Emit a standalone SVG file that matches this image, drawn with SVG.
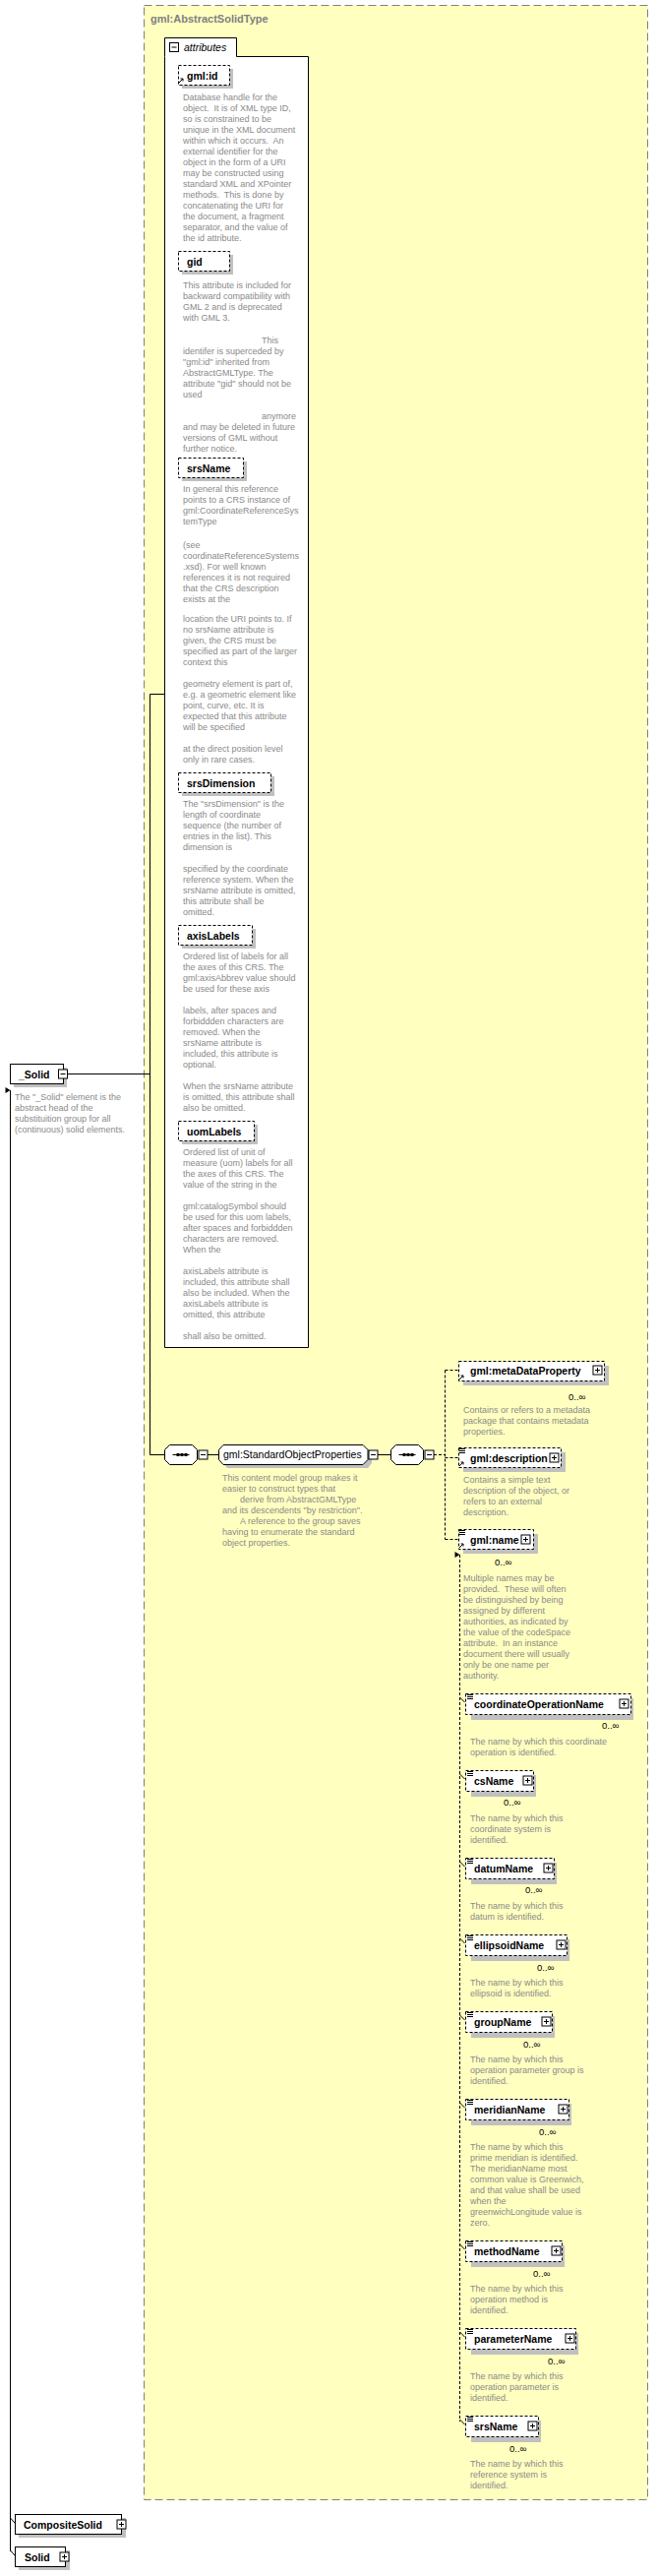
<svg xmlns="http://www.w3.org/2000/svg" xmlns:xlink="http://www.w3.org/1999/xlink" width="669" height="2618" viewBox="0 0 669 2618">
<style>
.d{font-family:"Liberation Sans",Arial,sans-serif;font-size:9px;fill:#8a8a8a}
.b{font-family:"Liberation Sans",Arial,sans-serif;font-size:10.5px;font-weight:bold;fill:#000}
.n{font-family:"Liberation Sans",Arial,sans-serif;font-size:10.5px;fill:#000}
.o{font-family:"Liberation Sans",Arial,sans-serif;font-size:9.5px;fill:#000}
.sh{fill:#c0c0c0}
.sol{fill:#fff;stroke:#000;stroke-width:1}
.das{fill:#fff;stroke:#000;stroke-width:1;stroke-dasharray:3,2}
.ln{stroke:#000;stroke-width:1;fill:none}
.dl{stroke:#000;stroke-width:1;fill:none;stroke-dasharray:3,2}
</style>
<defs>
<g id="plus"><rect x="0" y="0" width="9" height="9" fill="#fff" stroke="#000"/><path d="M2,4.5H7M4.5,2V7" stroke="#000"/></g>
<g id="minus"><rect x="0" y="0" width="9" height="9" fill="#fff" stroke="#000"/><path d="M2,4.5H7" stroke="#000"/></g>
<g id="lst"><path d="M0,0.5H6M0,2.5H6M0,4.5H6" stroke="#000" stroke-width="1"/></g>
<g id="ref"><path d="M0,6L4,2M1.5,2H4V4.5" stroke="#000" stroke-width="1" fill="none"/></g>
<g id="seq"><polygon points="5,0 28,0 33,5 33,15 28,20 5,20 0,15 0,5" fill="#fff" stroke="#000"/><path d="M8,10H25" stroke="#000"/><rect x="12" y="8.5" width="3" height="3" fill="#000"/><rect x="16" y="8.5" width="3" height="3" fill="#000"/><rect x="20" y="8.5" width="3" height="3" fill="#000"/></g>
<marker id="ar" markerWidth="6" markerHeight="6" refX="3" refY="0" orient="auto" markerUnits="userSpaceOnUse"><path d="M0,5L3,0L6,5Z" fill="#000"/></marker>
</defs>

<g id="type">
<rect x="146.5" y="5.5" width="512" height="2535" fill="#ffffc0" stroke="#808080" stroke-dasharray="8,4"/>
<text x="153" y="23" font-family="Liberation Sans,Arial,sans-serif" font-size="11px" font-weight="bold" fill="#808080">gml:AbstractSolidType</text>
</g>

<g id="attributes">
<path d="M167.5,57.5V38.5H240.5V57.5H313.5V1369.5H167.5Z" fill="#fff" stroke="#000"/>
<use xlink:href="#minus" x="172.5" y="43.5"/>
<text x="187" y="52" font-family="Liberation Sans,Arial,sans-serif" font-size="10.5px" font-style="italic">attributes</text>
</g>

<g id="att-gmlid">
<rect class="sh" x="185" y="70" width="52" height="20"/>
<rect class="das" x="181.5" y="66.5" width="52" height="20"/>
<use xlink:href="#ref" x="182" y="78"/>
<text class="b" x="190" y="81">gml:id</text>
<text class="d" xml:space="preserve"><tspan x="186" y="102">Database handle for the</tspan><tspan x="186" dy="11">object.  It is of XML type ID,</tspan><tspan x="186" dy="11">so is constrained to be</tspan><tspan x="186" dy="11">unique in the XML document</tspan><tspan x="186" dy="11">within which it occurs.  An</tspan><tspan x="186" dy="11">external identifier for the</tspan><tspan x="186" dy="11">object in the form of a URI</tspan><tspan x="186" dy="11">may be constructed using</tspan><tspan x="186" dy="11">standard XML and XPointer</tspan><tspan x="186" dy="11">methods.  This is done by</tspan><tspan x="186" dy="11">concatenating the URI for</tspan><tspan x="186" dy="11">the document, a fragment</tspan><tspan x="186" dy="11">separator, and the value of</tspan><tspan x="186" dy="11">the id attribute.</tspan></text>
</g>

<g id="att-gid">
<rect class="sh" x="185" y="259" width="52" height="20"/>
<rect class="das" x="181.5" y="255.5" width="52" height="20"/>
<text class="b" x="190" y="270">gid</text>
<text class="d" xml:space="preserve"><tspan x="186" y="293">This attribute is included for</tspan><tspan x="186" dy="11">backward compatibility with</tspan><tspan x="186" dy="11">GML 2 and is deprecated</tspan><tspan x="186" dy="11">with GML 3.</tspan><tspan x="266" y="349">This</tspan><tspan x="186" dy="11">identifer is superceded by</tspan><tspan x="186" dy="11">"gml:id" inherited from</tspan><tspan x="186" dy="11">AbstractGMLType. The</tspan><tspan x="186" dy="11">attribute "gid" should not be</tspan><tspan x="186" dy="11">used</tspan><tspan x="266" y="426">anymore</tspan><tspan x="186" dy="11">and may be deleted in future</tspan><tspan x="186" dy="11">versions of GML without</tspan><tspan x="186" dy="11">further notice.</tspan></text>
</g>

<g id="att-srsName">
<rect class="sh" x="185" y="469" width="66" height="20"/>
<rect class="das" x="181.5" y="465.5" width="66" height="20"/>
<text class="b" x="190" y="480">srsName</text>
<text class="d" xml:space="preserve"><tspan x="186" y="500">In general this reference</tspan><tspan x="186" y="511">points to a CRS instance of</tspan><tspan x="186" dy="11">gml:CoordinateReferenceSys</tspan><tspan x="186" dy="11">temType</tspan><tspan x="186" y="557">(see</tspan><tspan x="186" dy="11">coordinateReferenceSystems</tspan><tspan x="186" dy="11">.xsd). For well known</tspan><tspan x="186" dy="11">references it is not required</tspan><tspan x="186" dy="11">that the CRS description</tspan><tspan x="186" dy="11">exists at the</tspan><tspan x="186" y="632">location the URI points to. If</tspan><tspan x="186" dy="11">no srsName attribute is</tspan><tspan x="186" dy="11">given, the CRS must be</tspan><tspan x="186" dy="11">specified as part of the larger</tspan><tspan x="186" dy="11">context this</tspan><tspan x="186" y="698">geometry element is part of,</tspan><tspan x="186" dy="11">e.g. a geometric element like</tspan><tspan x="186" dy="11">point, curve, etc. It is</tspan><tspan x="186" dy="11">expected that this attribute</tspan><tspan x="186" dy="11">will be specified</tspan><tspan x="186" y="764">at the direct position level</tspan><tspan x="186" dy="11">only in rare cases.</tspan></text>
</g>

<g id="att-srsDimension">
<rect class="sh" x="185" y="789" width="94" height="20"/>
<rect class="das" x="181.5" y="785.5" width="94" height="20"/>
<text class="b" x="190" y="800">srsDimension</text>
<text class="d" xml:space="preserve"><tspan x="186" y="820">The "srsDimension" is the</tspan><tspan x="186" dy="11">length of coordinate</tspan><tspan x="186" dy="11">sequence (the number of</tspan><tspan x="186" dy="11">entries in the list). This</tspan><tspan x="186" dy="11">dimension is</tspan><tspan x="186" y="886">specified by the coordinate</tspan><tspan x="186" dy="11">reference system. When the</tspan><tspan x="186" dy="11">srsName attribute is omitted,</tspan><tspan x="186" dy="11">this attribute shall be</tspan><tspan x="186" dy="11">omitted.</tspan></text>
</g>

<g id="att-axisLabels">
<rect class="sh" x="185" y="944" width="75" height="20"/>
<rect class="das" x="181.5" y="940.5" width="75" height="20"/>
<text class="b" x="190" y="955">axisLabels</text>
<text class="d" xml:space="preserve"><tspan x="186" y="975">Ordered list of labels for all</tspan><tspan x="186" dy="11">the axes of this CRS. The</tspan><tspan x="186" dy="11">gml:axisAbbrev value should</tspan><tspan x="186" dy="11">be used for these axis</tspan><tspan x="186" y="1030">labels, after spaces and</tspan><tspan x="186" dy="11">forbiddden characters are</tspan><tspan x="186" dy="11">removed. When the</tspan><tspan x="186" dy="11">srsName attribute is</tspan><tspan x="186" dy="11">included, this attribute is</tspan><tspan x="186" dy="11">optional.</tspan><tspan x="186" y="1107">When the srsName attribute</tspan><tspan x="186" dy="11">is omitted, this attribute shall</tspan><tspan x="186" dy="11">also be omitted.</tspan></text>
</g>

<g id="att-uomLabels">
<rect class="sh" x="185" y="1143" width="77" height="20"/>
<rect class="das" x="181.5" y="1139.5" width="77" height="20"/>
<text class="b" x="190" y="1154">uomLabels</text>
<text class="d" xml:space="preserve"><tspan x="186" y="1174">Ordered list of unit of</tspan><tspan x="186" dy="11">measure (uom) labels for all</tspan><tspan x="186" dy="11">the axes of this CRS. The</tspan><tspan x="186" dy="11">value of the string in the</tspan><tspan x="186" y="1229">gml:catalogSymbol should</tspan><tspan x="186" dy="11">be used for this uom labels,</tspan><tspan x="186" dy="11">after spaces and forbiddden</tspan><tspan x="186" dy="11">characters are removed.</tspan><tspan x="186" dy="11">When the</tspan><tspan x="186" y="1295">axisLabels attribute is</tspan><tspan x="186" dy="11">included, this attribute shall</tspan><tspan x="186" dy="11">also be included. When the</tspan><tspan x="186" dy="11">axisLabels attribute is</tspan><tspan x="186" dy="11">omitted, this attribute</tspan><tspan x="186" y="1361">shall also be omitted.</tspan></text>
</g>

<g id="connectors">
<path class="ln" d="M68,1091.5H152.5M152.5,705.5V1478.5M152.5,705.5H167.5M152.5,1478.5H167"/>
<path class="ln" d="M211,1478.5H222M384,1478.5H397"/>
<path class="dl" d="M441,1478.5H452.5M452.5,1392.5V1564.5M452.5,1392.5H466M452.5,1481.5H466M452.5,1564.5H466"/>
<path class="dl" d="M467.5,1580V2461" marker-start="url(#ar)"/>
<path class="ln" d="M467.5,1725l5,5M467.5,1803l5,5M467.5,1892l5,5M467.5,1970l5,5M467.5,2048l5,5M467.5,2137l5,5M467.5,2281l5,5M467.5,2370l5,5M467.5,2459l5,5"/>
<path class="ln" d="M10.5,1108V2593M10.5,2559l4.5,5M10.5,2592l4.5,5" marker-start="url(#ar)"/>
</g>

<g id="el-Solid-abstract">
<rect class="sh" x="14" y="1085" width="54" height="20"/>
<rect class="sol" x="10.5" y="1081.5" width="54" height="20"/>
<text class="b" x="19" y="1096">_Solid</text>
<use xlink:href="#minus" x="59.5" y="1087"/>
<text class="d" xml:space="preserve"><tspan x="15" y="1118">The "_Solid" element is the</tspan><tspan x="15" dy="11">abstract head of the</tspan><tspan x="15" dy="11">substituition group for all</tspan><tspan x="15" dy="11">(continuous) solid elements.</tspan></text>
</g>

<g id="seq1">
<use xlink:href="#seq" x="167.5" y="1468.5"/>
<use xlink:href="#minus" x="202" y="1474"/>
</g>

<g id="grp-StandardObjectProperties">
<polygon class="sh" points="231,1472 374,1472 378,1477 378,1487 374,1492 231,1492 227,1487 227,1477"/>
<polygon class="sol" points="227,1468.5 369,1468.5 374,1473.5 374,1483.5 369,1488.5 227,1488.5 222.5,1483.5 222.5,1473.5"/>
<text class="n" x="227" y="1482">gml:StandardObjectProperties</text>
<use xlink:href="#minus" x="375" y="1474"/>
<text class="d" xml:space="preserve"><tspan x="226" y="1505">This content model group makes it</tspan><tspan x="226" dy="11">easier to construct types that</tspan><tspan x="244" dy="11">derive from AbstractGMLType</tspan><tspan x="226" dy="11">and its descendents "by restriction".</tspan><tspan x="244" dy="11">A reference to the group saves</tspan><tspan x="226" dy="11">having to enumerate the standard</tspan><tspan x="226" dy="11">object properties.</tspan></text>
</g>

<g id="seq2">
<use xlink:href="#seq" x="397.5" y="1468.5"/>
<use xlink:href="#minus" x="432" y="1474"/>
</g>

<g id="el-metaDataProperty">
<rect class="sh" x="471" y="1388" width="148" height="20"/>
<rect class="das" x="466.5" y="1383.5" width="148" height="20"/>
<use xlink:href="#ref" x="467" y="1396"/>
<text class="b" x="478" y="1397">gml:metaDataProperty</text>
<use xlink:href="#plus" x="603" y="1388"/>
<text class="o" x="578" y="1423">0..∞</text>
<text class="d"><tspan x="471" y="1436">Contains or refers to a metadata</tspan><tspan x="471" dy="11">package that contains metadata</tspan><tspan x="471" dy="11">properties.</tspan></text>
</g>

<g id="el-description">
<rect class="sh" x="471" y="1476" width="104" height="20"/>
<rect class="das" x="466.5" y="1471.5" width="104" height="20"/>
<use xlink:href="#lst" x="467" y="1472"/>
<use xlink:href="#ref" x="467" y="1484"/>
<text class="b" x="478" y="1486">gml:description</text>
<use xlink:href="#plus" x="559" y="1477"/>
<text class="d"><tspan x="471" y="1507">Contains a simple text</tspan><tspan x="471" dy="11">description of the object, or</tspan><tspan x="471" dy="11">refers to an external</tspan><tspan x="471" dy="11">description.</tspan></text>
</g>

<g id="el-name">
<rect class="sh" x="471" y="1559" width="76" height="20"/>
<rect class="das" x="466.5" y="1554.5" width="76" height="20"/>
<use xlink:href="#lst" x="467" y="1555"/>
<use xlink:href="#ref" x="467" y="1567"/>
<text class="b" x="478" y="1569">gml:name</text>
<use xlink:href="#plus" x="530" y="1560"/>
<text class="o" x="503" y="1591">0..∞</text>
<text class="d" xml:space="preserve"><tspan x="471" y="1607">Multiple names may be</tspan><tspan x="471" dy="11">provided.  These will often</tspan><tspan x="471" dy="11">be distinguished by being</tspan><tspan x="471" dy="11">assigned by different</tspan><tspan x="471" dy="11">authorities, as indicated by</tspan><tspan x="471" dy="11">the value of the codeSpace</tspan><tspan x="471" dy="11">attribute.  In an instance</tspan><tspan x="471" dy="11">document there will usually</tspan><tspan x="471" dy="11">only be one name per</tspan><tspan x="471" dy="11">authority.</tspan></text>
</g>

<g id="el-coordinateOperationName">
<rect class="sh" x="479" y="1726" width="165" height="22"/>
<rect class="das" x="473.5" y="1721.5" width="168" height="21"/>
<use xlink:href="#lst" x="475" y="1722"/>
<text class="b" x="482" y="1736">coordinateOperationName</text>
<use xlink:href="#plus" x="630" y="1727"/>
<text class="o" x="612" y="1757">0..∞</text>
<text class="d"><tspan x="478" y="1773">The name by which this coordinate</tspan><tspan x="478" dy="11">operation is identified.</tspan></text>
</g>

<g id="el-csName">
<rect class="sh" x="479" y="1804" width="66" height="22"/>
<rect class="das" x="473.5" y="1799.5" width="69" height="21"/>
<use xlink:href="#lst" x="475" y="1800"/>
<text class="b" x="482" y="1814">csName</text>
<use xlink:href="#plus" x="532" y="1805"/>
<text class="o" x="512" y="1835">0..∞</text>
<text class="d"><tspan x="478" y="1851">The name by which this</tspan><tspan x="478" dy="11">coordinate system is</tspan><tspan x="478" dy="11">identified.</tspan></text>
</g>

<g id="el-datumName">
<rect class="sh" x="479" y="1893" width="87" height="22"/>
<rect class="das" x="473.5" y="1888.5" width="90" height="21"/>
<use xlink:href="#lst" x="475" y="1889"/>
<text class="b" x="482" y="1903">datumName</text>
<use xlink:href="#plus" x="553" y="1894"/>
<text class="o" x="534" y="1924">0..∞</text>
<text class="d"><tspan x="478" y="1940">The name by which this</tspan><tspan x="478" dy="11">datum is identified.</tspan></text>
</g>

<g id="el-ellipsoidName">
<rect class="sh" x="479" y="1971" width="100" height="22"/>
<rect class="das" x="473.5" y="1966.5" width="103" height="21"/>
<use xlink:href="#lst" x="475" y="1967"/>
<text class="b" x="482" y="1981">ellipsoidName</text>
<use xlink:href="#plus" x="566" y="1972"/>
<text class="o" x="546" y="2003">0..∞</text>
<text class="d"><tspan x="478" y="2018">The name by which this</tspan><tspan x="478" dy="11">ellipsoid is identified.</tspan></text>
</g>

<g id="el-groupName">
<rect class="sh" x="479" y="2049" width="85" height="22"/>
<rect class="das" x="473.5" y="2044.5" width="88" height="21"/>
<use xlink:href="#lst" x="475" y="2045"/>
<text class="b" x="482" y="2059">groupName</text>
<use xlink:href="#plus" x="551" y="2050"/>
<text class="o" x="532" y="2081">0..∞</text>
<text class="d"><tspan x="478" y="2096">The name by which this</tspan><tspan x="478" dy="11">operation parameter group is</tspan><tspan x="478" dy="11">identified.</tspan></text>
</g>

<g id="el-meridianName">
<rect class="sh" x="479" y="2138" width="102" height="22"/>
<rect class="das" x="473.5" y="2133.5" width="105" height="21"/>
<use xlink:href="#lst" x="475" y="2134"/>
<text class="b" x="482" y="2148">meridianName</text>
<use xlink:href="#plus" x="568" y="2139"/>
<text class="o" x="548" y="2170">0..∞</text>
<text class="d"><tspan x="478" y="2185">The name by which this</tspan><tspan x="478" dy="11">prime meridian is identified.</tspan><tspan x="478" dy="11">The meridianName most</tspan><tspan x="478" dy="11">common value is Greenwich,</tspan><tspan x="478" dy="11">and that value shall be used</tspan><tspan x="478" dy="11">when the</tspan><tspan x="478" dy="11">greenwichLongitude value is</tspan><tspan x="478" dy="11">zero.</tspan></text>
</g>

<g id="el-methodName">
<rect class="sh" x="479" y="2282" width="95" height="22"/>
<rect class="das" x="473.5" y="2277.5" width="98" height="21"/>
<use xlink:href="#lst" x="475" y="2278"/>
<text class="b" x="482" y="2292">methodName</text>
<use xlink:href="#plus" x="561" y="2283"/>
<text class="o" x="542" y="2314">0..∞</text>
<text class="d"><tspan x="478" y="2329">The name by which this</tspan><tspan x="478" dy="11">operation method is</tspan><tspan x="478" dy="11">identified.</tspan></text>
</g>

<g id="el-parameterName">
<rect class="sh" x="479" y="2371" width="109" height="22"/>
<rect class="das" x="473.5" y="2366.5" width="112" height="21"/>
<use xlink:href="#lst" x="475" y="2367"/>
<text class="b" x="482" y="2381">parameterName</text>
<use xlink:href="#plus" x="575" y="2372"/>
<text class="o" x="557" y="2403">0..∞</text>
<text class="d"><tspan x="478" y="2418">The name by which this</tspan><tspan x="478" dy="11">operation parameter is</tspan><tspan x="478" dy="11">identified.</tspan></text>
</g>

<g id="el-srsName">
<rect class="sh" x="479" y="2460" width="71" height="22"/>
<rect class="das" x="473.5" y="2455.5" width="74" height="21"/>
<use xlink:href="#lst" x="475" y="2456"/>
<text class="b" x="482" y="2470">srsName</text>
<use xlink:href="#plus" x="537" y="2461"/>
<text class="o" x="518" y="2492">0..∞</text>
<text class="d"><tspan x="478" y="2507">The name by which this</tspan><tspan x="478" dy="11">reference system is</tspan><tspan x="478" dy="11">identified.</tspan></text>
</g>

<g id="el-CompositeSolid">
<rect class="sh" x="19" y="2559" width="109" height="20"/>
<rect class="sol" x="15.5" y="2555.5" width="108" height="20"/>
<text class="b" x="24" y="2570">CompositeSolid</text>
<use xlink:href="#plus" x="119" y="2561"/>
</g>

<g id="el-Solid">
<rect class="sh" x="19" y="2592" width="52" height="20"/>
<rect class="sol" x="15.5" y="2588.5" width="51" height="20"/>
<text class="b" x="25" y="2603">Solid</text>
<use xlink:href="#plus" x="61" y="2594"/>
</g>
</svg>
